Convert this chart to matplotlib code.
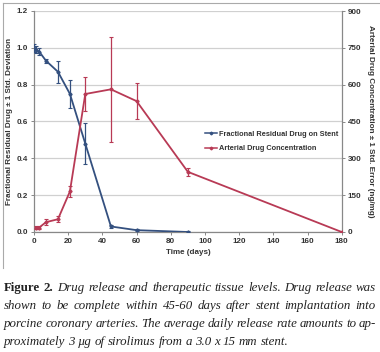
import matplotlib
matplotlib.use("Agg")
import matplotlib.pyplot as plt
from matplotlib.lines import Line2D

# ---- data ----
days_stent = [0, 1, 3, 7, 14, 21, 30, 45, 60, 90]
frac_resid = [1.0, 0.99, 0.98, 0.93, 0.87, 0.75, 0.48, 0.03, 0.01, 0.0]
frac_sd = [0.02, 0.02, 0.02, 0.01, 0.06, 0.076, 0.11, 0.01, 0.005, 0.003]

days_art = [1, 3, 7, 14, 21, 30, 45, 60, 90, 180]
art_conc = [18, 18, 40, 52, 165, 562, 581, 533, 245, 0]
art_se = [5, 5, 12, 12, 22, 70, 215, 72, 15, 0]

x_ticks = list(range(0, 181, 20))
left_ticks = [0.0, 0.2, 0.4, 0.6, 0.8, 1.0, 1.2]
right_ticks = [0, 150, 300, 450, 600, 750, 900]

caption_lines = [
    [("Figure 2.", "bold"), ("Drug release and therapeutic tissue levels. Drug release was", "italic")],
    [("shown to be complete within 45-60 days after stent implantation into", "italic")],
    [("porcine coronary arteries. The average daily release rate amounts to ap-", "italic")],
    [("proximately 3 \u00b5g of sirolimus from a 3.0 x 15 mm stent.", "italic")],
]

BLUE = "#34507f"
RED = "#b83a55"
TXT = "#333333"

fig = plt.figure(figsize=(3.8, 3.52), dpi=100)
W, H = 380, 352

ax = fig.add_axes([34 / W, 1 - 232 / H, (341.7 - 34) / W, (232 - 11) / H])
ax2 = ax.twinx()

ax.set_xlim(0, 180)
ax.set_ylim(0, 1.2)
ax2.set_ylim(0, 900)
ax.set_xticks(x_ticks)
ax.set_yticks(left_ticks)
ax2.set_yticks(right_ticks)
ax.set_yticklabels([f"{v:.1f}" for v in left_ticks])
ax2.set_yticklabels([str(v) for v in right_ticks])

font = "Liberation Sans"
for a in (ax, ax2):
    for s in a.spines.values():
        s.set_visible(False)
ax.spines["left"].set_visible(True)
ax.spines["bottom"].set_visible(True)
ax2.spines["right"].set_visible(True)
for sp in (ax.spines["left"], ax.spines["bottom"], ax2.spines["right"]):
    sp.set_color("#888888")
    sp.set_linewidth(0.9)

ax.grid(axis="y", color="#d0d0d0", linewidth=0.9)
ax.set_axisbelow(True)
ax.tick_params(axis="both", length=2.5, width=0.7, color="#888888", pad=2,
               labelsize=5.8, labelcolor=TXT)
ax2.tick_params(axis="y", length=2.5, width=0.7, color="#888888", pad=2,
                labelsize=5.8, labelcolor=TXT)
for lab in ax.get_xticklabels() + ax.get_yticklabels() + ax2.get_yticklabels():
    lab.set_fontfamily(font)
    lab.set_fontweight("bold")

ax.errorbar(days_stent, frac_resid, yerr=frac_sd, color=BLUE, lw=1.3,
            marker="D", ms=1.6, elinewidth=0.9, capsize=1.5, capthick=0.8, zorder=3)
ax2.errorbar(days_art, art_conc, yerr=art_se, color=RED, lw=1.3,
             marker="D", ms=1.6, elinewidth=0.9, capsize=1.5, capthick=0.8, zorder=3)

ax.set_xlabel("Time (days)", fontsize=5.8, fontfamily=font, fontweight="bold",
              color=TXT, labelpad=3)
ax.set_ylabel("Fractional Residual Drug \u00b1 1 Std. Deviation", fontsize=5.9,
              fontfamily=font, fontweight="bold", color=TXT, labelpad=2)
ax2.set_ylabel("Arterial Drug Concentration \u00b1 1 Std. Error (ng/mg)", fontsize=5.9,
               fontfamily=font, fontweight="bold", color=TXT, rotation=270,
               labelpad=9)

handles = [Line2D([], [], color=BLUE, lw=1.1, marker="D", ms=1.4),
           Line2D([], [], color=RED, lw=1.1, marker="D", ms=1.4)]
leg = ax.legend(handles, ["Fractional Residual Drug on Stent", "Arterial Drug Concentration"],
                loc="upper left", bbox_to_anchor=(0.545, 0.475), frameon=False,
                prop={"family": font, "weight": "bold", "size": 5.3},
                handlelength=1.6, handletextpad=0.3, labelspacing=1.0, borderpad=0)
for t in leg.get_texts():
    t.set_color(TXT)

# outer frame lines (top and left)
fig.add_artist(Line2D([3 / W, 3 / W], [1 - 3 / H, 1 - 268 / H], transform=fig.transFigure,
                      color="#aaaaaa", lw=0.8))
fig.add_artist(Line2D([3 / W, 1.0], [1 - 3 / H, 1 - 3 / H], transform=fig.transFigure,
                      color="#aaaaaa", lw=0.8))

# caption with justification
renderer = fig.canvas.get_renderer()
x_left, x_right = 4.0, 376.0
line_y = [288, 306, 324, 342]
cfs = 9.3
for li, (segments, yc) in enumerate(zip(caption_lines, line_y)):
    words = []
    for text, style in segments:
        for w in text.split(" "):
            words.append((w, style))
    objs = []
    for w, style in words:
        kw = dict(fontsize=cfs, fontfamily="Liberation Serif", color="#222222",
                  va="center", ha="left")
        if style == "bold":
            kw["fontweight"] = "bold"
        else:
            kw["fontstyle"] = "italic"
        t = fig.text(0, 1 - yc / H, w, **kw)
        objs.append(t)
    widths = [o.get_window_extent(renderer).width for o in objs]
    total = sum(widths)
    gaps = len(objs) - 1
    if li < len(caption_lines) - 1:
        gap = (x_right - x_left - total) / gaps
    else:
        gap = 3.0
    x = x_left
    for o, wdt in zip(objs, widths):
        o.set_x(x / W)
        x += wdt + gap

fig.savefig("out.png", dpi=100)
